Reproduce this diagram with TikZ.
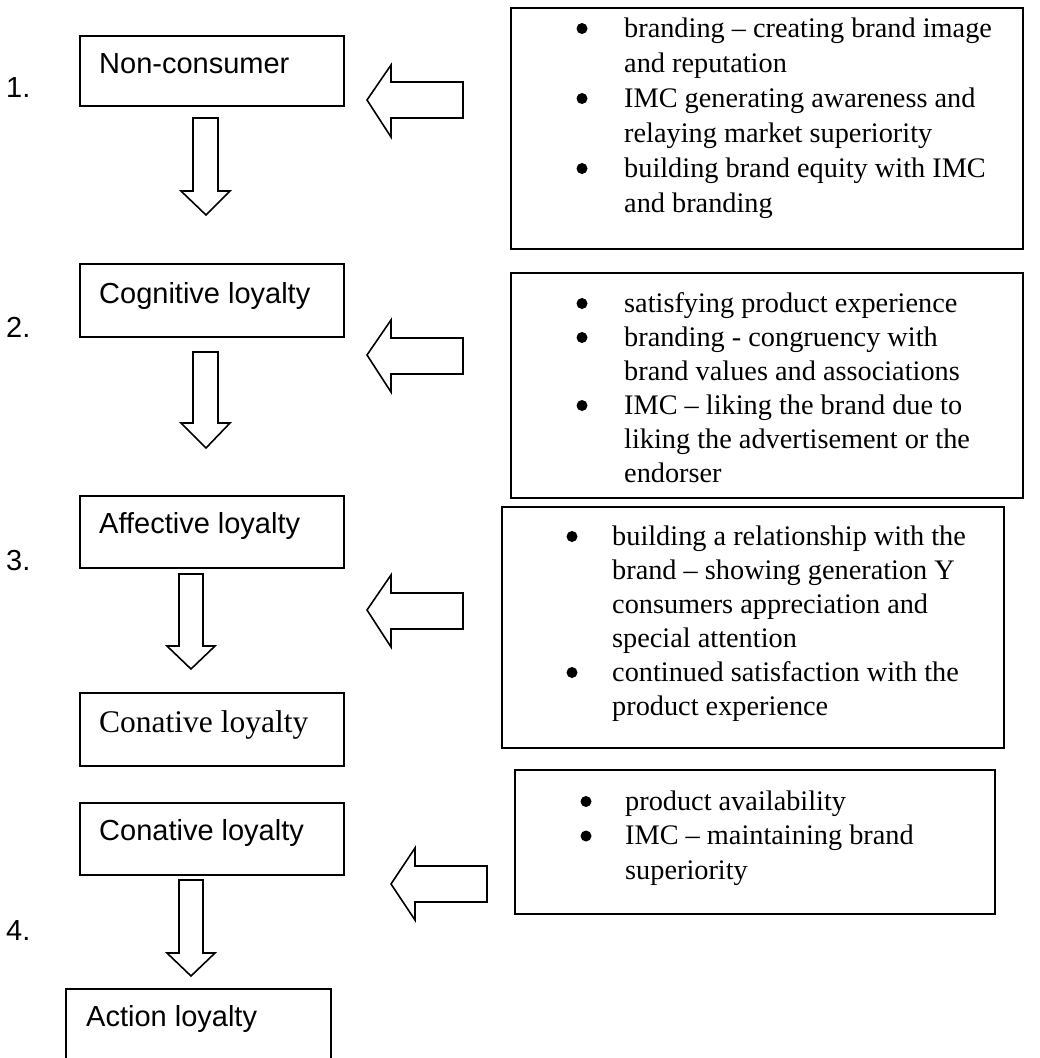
\documentclass[tikz,border=0pt]{standalone}
\usepackage{fontspec}
\setmainfont{Liberation Serif}
\newfontfamily\sansf{Liberation Sans}
\usetikzlibrary{calc}
\newcommand\myline[1]{\hbox{#1}}
\begin{document}
\begin{tikzpicture}[x=1pt,y=-1pt,
  box/.style={draw, line width=1.6pt, inner sep=0pt, anchor=north west},
  lbl/.style={font=\sansf\fontsize{29}{34}\selectfont, inner sep=0pt, anchor=base west},
  serlbl/.style={font=\fontsize{31.5}{36}\selectfont, inner sep=0pt, anchor=base west},
  txt/.style={font=\fontsize{28.3}{34}\selectfont, inner sep=0pt, anchor=base west},
  blk/.style={draw, line width=1.6pt, fill=white, line join=miter},
  dot/.style={fill=black}
]
\clip (0,0) rectangle (1040,1058);

% left column boxes
\node[box, minimum width=264pt, minimum height=70pt] (b1) at (79,35) {};
\node[box, minimum width=264pt, minimum height=73pt] (b2) at (79,263) {};
\node[box, minimum width=264pt, minimum height=72pt] (b3) at (79,495) {};
\node[box, minimum width=264pt, minimum height=73pt] (b4) at (79,692) {};
\node[box, minimum width=264pt, minimum height=72pt] (b5) at (79,802) {};
\node[box, minimum width=265pt, minimum height=90pt] (b6) at (65,988) {};

\node[lbl] (l1) at ($(b1.north west)+(20,38)$) {Non-consumer};
\node[lbl] (l2) at ($(b2.north west)+(20,40)$) {Cognitive loyalty};
\node[lbl] (l3) at ($(b3.north west)+(20,38)$) {Affective loyalty};
\node[serlbl] (l4) at ($(b4.north west)+(20,40)$) {Conative loyalty};
\node[lbl] (l5) at ($(b5.north west)+(20,38)$) {Conative loyalty};
\node[lbl] (l6) at ($(b6.north west)+(21,38)$) {Action loyalty};

% step numbers
\node[lbl] (n1) at (6,97) {1.};
\node[lbl] (n2) at (6,337) {2.};
\node[lbl] (n3) at (6,570) {3.};
\node[lbl] (n4) at (6,940) {4.};

% right column boxes
\node[box, minimum width=512pt, minimum height=241pt] (r1) at (510,7) {};
\node[box, minimum width=512pt, minimum height=225pt] (r2) at (510,272) {};
\node[box, minimum width=502pt, minimum height=241pt] (r3) at (501,506) {};
\node[box, minimum width=480pt, minimum height=144pt] (r4) at (514,769) {};

\node[txt, font=\fontsize{28.3}{35}\selectfont] (t1) at (624,37) {\vtop{%
\myline{branding – creating brand image}
\myline{and reputation}
\myline{IMC generating awareness and}
\myline{relaying market superiority}
\myline{building brand equity with IMC}
\myline{and branding}}};

\node[txt] (t2) at (624,312) {\vtop{%
\myline{satisfying product experience}
\myline{branding - congruency with}
\myline{brand values and associations}
\myline{IMC – liking the brand due to}
\myline{liking the advertisement or the}
\myline{endorser}}};

\node[txt] (t3) at (612,545) {\vtop{%
\myline{building a relationship with the}
\myline{brand – showing generation Y}
\myline{consumers appreciation and}
\myline{special attention}
\myline{continued satisfaction with the}
\myline{product experience}}};

\node[txt, font=\fontsize{28.3}{34.5}\selectfont] (t4) at (625,810) {\vtop{%
\myline{product availability}
\myline{IMC – maintaining brand}
\myline{superiority}}};

% bullets
\fill[dot] ($(t1.base west)+(-42,-8.5)$) circle (5.5);
\fill[dot] ($(t1.base west)+(-42,61.5)$) circle (5.5);
\fill[dot] ($(t1.base west)+(-42,131.5)$) circle (5.5);
\fill[dot] ($(t2.base west)+(-42,-8.5)$) circle (5.5);
\fill[dot] ($(t2.base west)+(-42,25.5)$) circle (5.5);
\fill[dot] ($(t2.base west)+(-42,93.5)$) circle (5.5);
\fill[dot] ($(t3.base west)+(-40,-8.5)$) circle (5.5);
\fill[dot] ($(t3.base west)+(-40,127.5)$) circle (5.5);
\fill[dot] ($(t4.base west)+(-39,-8.5)$) circle (5.5);
\fill[dot] ($(t4.base west)+(-39,26)$) circle (5.5);

% down block arrows
\draw[blk] (193,118) -- (218,118) -- (218,191) -- (230,191) -- (206,215) -- (181,191) -- (193,191) -- cycle;
\draw[blk] (193,352) -- (218,352) -- (218,423) -- (230,423) -- (206,448) -- (181,423) -- (193,423) -- cycle;
\draw[blk] (179,574) -- (203,574) -- (203,646) -- (215,646) -- (191,669) -- (167,646) -- (179,646) -- cycle;
\draw[blk] (179,880) -- (203,880) -- (203,953) -- (215,953) -- (191,976) -- (167,953) -- (179,953) -- cycle;

% left block arrows
\draw[blk] (463,82) -- (463,118) -- (391,118) -- (391,137) -- (367,100) -- (391,65) -- (391,82) -- cycle;
\draw[blk] (463,338) -- (463,374) -- (391,374) -- (391,392) -- (367,355) -- (391,320) -- (391,338) -- cycle;
\draw[blk] (463,593) -- (463,629) -- (391,629) -- (391,647) -- (367,610) -- (391,575) -- (391,593) -- cycle;
\draw[blk] (487,866) -- (487,902) -- (415,902) -- (415,920) -- (391,884) -- (415,848) -- (415,866) -- cycle;
\end{tikzpicture}
\end{document}
